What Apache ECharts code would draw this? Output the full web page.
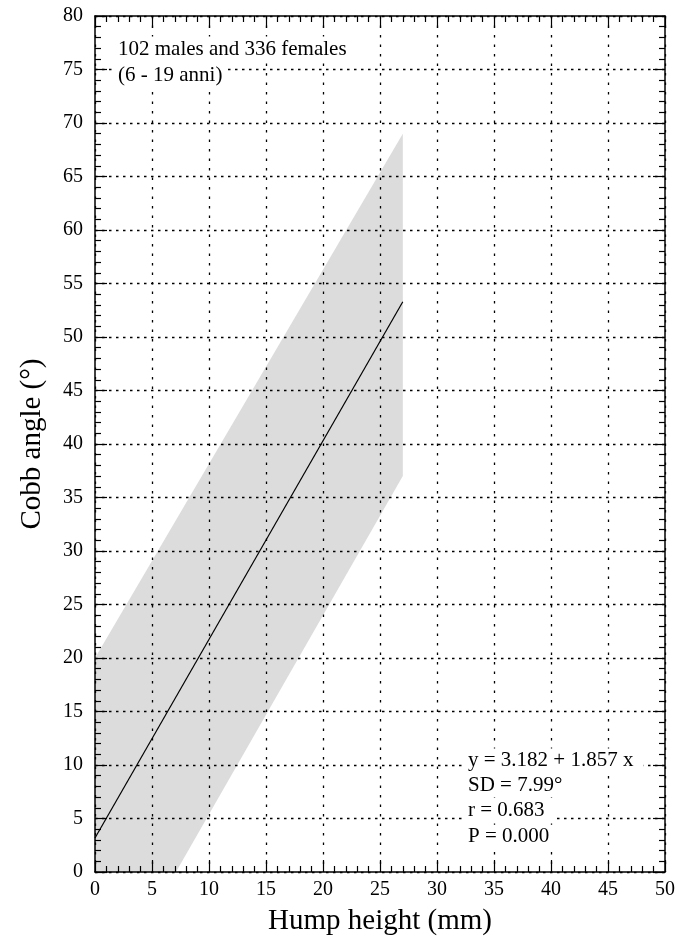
<!DOCTYPE html>
<html><head><meta charset="utf-8">
<script src="https://cdn.jsdelivr.net/npm/echarts@6/dist/echarts.min.js"></script>
<style>html,body{margin:0;padding:0;background:#fff}#c{width:680px;height:943px}</style>
</head><body><div id="c"></div>
<script>
// ---- data ----
const xAxisRange = [0, 50, 5];           // min, max, interval
const yAxisRange = [0, 80, 5];
const bandUpper = [[0, 20], [27, 69]];
const bandLower = [[27, 37], [7.1, 0], [0, 0]];
const fitLine = [[0, 3.18], [27, 53.3]];
const noteTopLeft = ['102 males and 336 females', '(6 - 19 anni)'];
const noteStats = ['y = 3.182 + 1.857 x', 'SD = 7.99°', 'r = 0.683', 'P = 0.000'];
const xTitle = 'Hump height (mm)';
const yTitle = 'Cobb angle (°)';

// ---- chart ----
const FONT = '"Liberation Serif", "Times New Roman", serif';
const chart = echarts.init(document.getElementById('c'), null, {renderer: 'canvas'});
const bandPoly = bandUpper.concat(bandLower);

function axisBase(range, pos, isMain) {
  return {
    type: 'value', position: pos, min: range[0], max: range[1], interval: range[2],
    z: 3,
    axisLine: {show: true, onZero: false, lineStyle: {color: '#000', width: 1.5}},
    axisTick: {show: true, inside: true, length: 12, lineStyle: {color: '#000', width: 1.2}},
    minorTick: {show: true, splitNumber: 5, length: 6, lineStyle: {color: '#000', width: 1.2}},
    axisLabel: {show: isMain, color: '#000', fontSize: 20, fontFamily: FONT, margin: 8},
    splitLine: {show: false}
  };
}

const xMain = axisBase(xAxisRange, 'bottom', true);
xMain.splitLine = {show: true, lineStyle: {color: '#000', width: 1.3, type: [2.5, 7]}};
xMain.name = xTitle; xMain.nameLocation = 'middle'; xMain.nameGap = 35;
xMain.nameTextStyle = {color: '#000', fontSize: 29, fontFamily: FONT};
const xTop = axisBase(xAxisRange, 'top', false);

const yMain = axisBase(yAxisRange, 'left', true);
yMain.splitLine = {show: true, lineStyle: {color: '#000', width: 1.3, type: [2.5, 4.5]}};
yMain.axisLabel.margin = 12;
yMain.name = yTitle; yMain.nameLocation = 'middle'; yMain.nameGap = 48;
yMain.nameTextStyle = {color: '#000', fontSize: 29, fontFamily: FONT};
const yRight = axisBase(yAxisRange, 'right', false);

const graphics = [];
noteTopLeft.forEach((t, i) => graphics.push({
  type: 'text', x: 115, y: 49 + i * 26, z: 100,
  style: {text: t, font: '21px ' + FONT, fill: '#000', backgroundColor: '#fff',
          verticalAlign: 'middle', padding: [2, 3]}
}));
noteStats.forEach((t, i) => graphics.push({
  type: 'text', x: 466, y: 760 + i * 25.4, z: 100,
  style: {text: t, font: '21px ' + FONT, fill: '#000', backgroundColor: '#fff',
          verticalAlign: 'middle', padding: [1, 10, 1, 2]}
}));

chart.setOption({
  animation: false,
  backgroundColor: '#fff',
  grid: {left: 95, right: 15, top: 16, bottom: 71, containLabel: false, outerBoundsMode: 'none'},
  xAxis: [xMain, xTop],
  yAxis: [yMain, yRight],
  graphic: graphics,
  series: [
    {
      type: 'custom', xAxisIndex: 0, yAxisIndex: 0, z: 1, silent: true,
      data: bandPoly, encode: {x: 0, y: 1},
      renderItem: function (params, api) {
        if (params.dataIndex !== 0) return null;
        const pts = bandPoly.map(p => api.coord(p));
        return {type: 'polygon', shape: {points: pts}, style: {fill: '#dcdcdc'}};
      }
    },
    {
      type: 'line', xAxisIndex: 0, yAxisIndex: 0, z: 5, silent: true,
      data: fitLine, showSymbol: false, symbol: 'none',
      lineStyle: {color: '#000', width: 1.2}
    }
  ]
});
</script></body></html>
